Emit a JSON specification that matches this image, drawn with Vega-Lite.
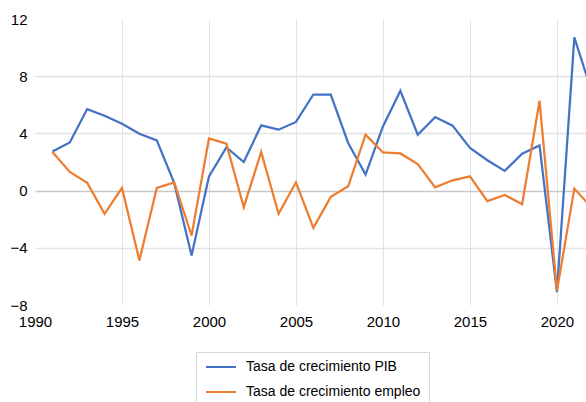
{
  "$schema": "https://vega.github.io/schema/vega-lite/v6.json",
  "width": 551,
  "height": 286,
  "autosize": "none",
  "padding": {"left": 35, "top": 19, "right": 0, "bottom": 97},
  "background": "white",
  "config": {"view": {"stroke": null}},
  "datasets": {
    "d": [
      {"anio": 1991, "serie": "Tasa de crecimiento PIB", "valor": 2.74},
      {"anio": 1992, "serie": "Tasa de crecimiento PIB", "valor": 3.37},
      {"anio": 1993, "serie": "Tasa de crecimiento PIB", "valor": 5.7},
      {"anio": 1994, "serie": "Tasa de crecimiento PIB", "valor": 5.23},
      {"anio": 1995, "serie": "Tasa de crecimiento PIB", "valor": 4.68},
      {"anio": 1996, "serie": "Tasa de crecimiento PIB", "valor": 3.98},
      {"anio": 1997, "serie": "Tasa de crecimiento PIB", "valor": 3.51},
      {"anio": 1998, "serie": "Tasa de crecimiento PIB", "valor": 0.54},
      {"anio": 1999, "serie": "Tasa de crecimiento PIB", "valor": -4.54},
      {"anio": 2000, "serie": "Tasa de crecimiento PIB", "valor": 1.0},
      {"anio": 2001, "serie": "Tasa de crecimiento PIB", "valor": 3.02},
      {"anio": 2002, "serie": "Tasa de crecimiento PIB", "valor": 2.0},
      {"anio": 2003, "serie": "Tasa de crecimiento PIB", "valor": 4.56},
      {"anio": 2004, "serie": "Tasa de crecimiento PIB", "valor": 4.26},
      {"anio": 2005, "serie": "Tasa de crecimiento PIB", "valor": 4.8},
      {"anio": 2006, "serie": "Tasa de crecimiento PIB", "valor": 6.72},
      {"anio": 2007, "serie": "Tasa de crecimiento PIB", "valor": 6.72},
      {"anio": 2008, "serie": "Tasa de crecimiento PIB", "valor": 3.33},
      {"anio": 2009, "serie": "Tasa de crecimiento PIB", "valor": 1.12},
      {"anio": 2010, "serie": "Tasa de crecimiento PIB", "valor": 4.49},
      {"anio": 2011, "serie": "Tasa de crecimiento PIB", "valor": 6.98},
      {"anio": 2012, "serie": "Tasa de crecimiento PIB", "valor": 3.91},
      {"anio": 2013, "serie": "Tasa de crecimiento PIB", "valor": 5.14},
      {"anio": 2014, "serie": "Tasa de crecimiento PIB", "valor": 4.54},
      {"anio": 2015, "serie": "Tasa de crecimiento PIB", "valor": 2.98},
      {"anio": 2016, "serie": "Tasa de crecimiento PIB", "valor": 2.12},
      {"anio": 2017, "serie": "Tasa de crecimiento PIB", "valor": 1.38},
      {"anio": 2018, "serie": "Tasa de crecimiento PIB", "valor": 2.58},
      {"anio": 2019, "serie": "Tasa de crecimiento PIB", "valor": 3.16},
      {"anio": 2020, "serie": "Tasa de crecimiento PIB", "valor": -7.1},
      {"anio": 2021, "serie": "Tasa de crecimiento PIB", "valor": 10.72},
      {"anio": 2022, "serie": "Tasa de crecimiento PIB", "valor": 6.9},
      {"anio": 1991, "serie": "Tasa de crecimiento empleo", "valor": 2.7},
      {"anio": 1992, "serie": "Tasa de crecimiento empleo", "valor": 1.3},
      {"anio": 1993, "serie": "Tasa de crecimiento empleo", "valor": 0.54},
      {"anio": 1994, "serie": "Tasa de crecimiento empleo", "valor": -1.63},
      {"anio": 1995, "serie": "Tasa de crecimiento empleo", "valor": 0.19},
      {"anio": 1996, "serie": "Tasa de crecimiento empleo", "valor": -4.88},
      {"anio": 1997, "serie": "Tasa de crecimiento empleo", "valor": 0.19},
      {"anio": 1998, "serie": "Tasa de crecimiento empleo", "valor": 0.58},
      {"anio": 1999, "serie": "Tasa de crecimiento empleo", "valor": -3.14},
      {"anio": 2000, "serie": "Tasa de crecimiento empleo", "valor": 3.65},
      {"anio": 2001, "serie": "Tasa de crecimiento empleo", "valor": 3.28},
      {"anio": 2002, "serie": "Tasa de crecimiento empleo", "valor": -1.16},
      {"anio": 2003, "serie": "Tasa de crecimiento empleo", "valor": 2.7},
      {"anio": 2004, "serie": "Tasa de crecimiento empleo", "valor": -1.63},
      {"anio": 2005, "serie": "Tasa de crecimiento empleo", "valor": 0.58},
      {"anio": 2006, "serie": "Tasa de crecimiento empleo", "valor": -2.6},
      {"anio": 2007, "serie": "Tasa de crecimiento empleo", "valor": -0.44},
      {"anio": 2008, "serie": "Tasa de crecimiento empleo", "valor": 0.3},
      {"anio": 2009, "serie": "Tasa de crecimiento empleo", "valor": 3.91},
      {"anio": 2010, "serie": "Tasa de crecimiento empleo", "valor": 2.67},
      {"anio": 2011, "serie": "Tasa de crecimiento empleo", "valor": 2.6},
      {"anio": 2012, "serie": "Tasa de crecimiento empleo", "valor": 1.86},
      {"anio": 2013, "serie": "Tasa de crecimiento empleo", "valor": 0.23},
      {"anio": 2014, "serie": "Tasa de crecimiento empleo", "valor": 0.72},
      {"anio": 2015, "serie": "Tasa de crecimiento empleo", "valor": 1.0},
      {"anio": 2016, "serie": "Tasa de crecimiento empleo", "valor": -0.74},
      {"anio": 2017, "serie": "Tasa de crecimiento empleo", "valor": -0.3},
      {"anio": 2018, "serie": "Tasa de crecimiento empleo", "valor": -0.95},
      {"anio": 2019, "serie": "Tasa de crecimiento empleo", "valor": 6.28},
      {"anio": 2020, "serie": "Tasa de crecimiento empleo", "valor": -7.0},
      {"anio": 2021, "serie": "Tasa de crecimiento empleo", "valor": 0.14},
      {"anio": 2022, "serie": "Tasa de crecimiento empleo", "valor": -1.2}
    ]
  },
  "data": {"name": "d"},
  "mark": {"type": "line", "strokeWidth": 2.25, "clip": true},
  "encoding": {
    "x": {
      "field": "anio",
      "type": "quantitative",
      "scale": {"domain": [1990, 2021.67], "nice": false, "zero": false},
      "axis": {
        "title": null,
        "values": [1990, 1995, 2000, 2005, 2010, 2015, 2020],
        "format": "d",
        "domain": false,
        "ticks": false,
        "labelFont": "Liberation Sans",
        "labelFontSize": 15,
        "labelColor": "#000000",
        "labelPadding": 9,
        "labelFlush": false,
        "labelOverlap": false,
        "gridColor": {"condition": {"test": "datum.value == 1990", "value": "transparent"}, "value": "#e3e3e3"},
        "gridWidth": 1
      }
    },
    "y": {
      "field": "valor",
      "type": "quantitative",
      "scale": {"domain": [-8, 12], "nice": false},
      "axis": {
        "title": null,
        "values": [-8, -4, 0, 4, 8, 12],
        "domain": false,
        "ticks": false,
        "labelFont": "Liberation Sans",
        "labelFontSize": 15,
        "labelColor": "#000000",
        "labelPadding": 8,
        "labelFlush": false,
        "labelOverlap": false,
        "gridColor": {"condition": [
          {"test": "datum.value == 12 || datum.value == -8", "value": "transparent"},
          {"test": "datum.value == 0", "value": "#c8c8c8"}
        ], "value": "#e3e3e3"},
        "gridWidth": 1.5
      }
    },
    "color": {
      "field": "serie",
      "type": "nominal",
      "scale": {
        "domain": ["Tasa de crecimiento PIB", "Tasa de crecimiento empleo"],
        "range": ["#4472C4", "#ED7D31"]
      },
      "legend": {
        "title": null,
        "orient": "none",
        "legendX": 161,
        "legendY": 333,
        "direction": "vertical",
        "symbolType": "M-1,0H5",
        "symbolSize": 100,
        "symbolStrokeWidth": 2,
        "labelFont": "Liberation Sans",
        "labelFontSize": 14,
        "labelColor": "#000000",
        "labelOffset": 28,
        "rowPadding": 11,
        "padding": 8,
        "strokeColor": "#d9d9d9",
        "fillColor": "white",
        "labelLimit": 300
      }
    }
  }
}
